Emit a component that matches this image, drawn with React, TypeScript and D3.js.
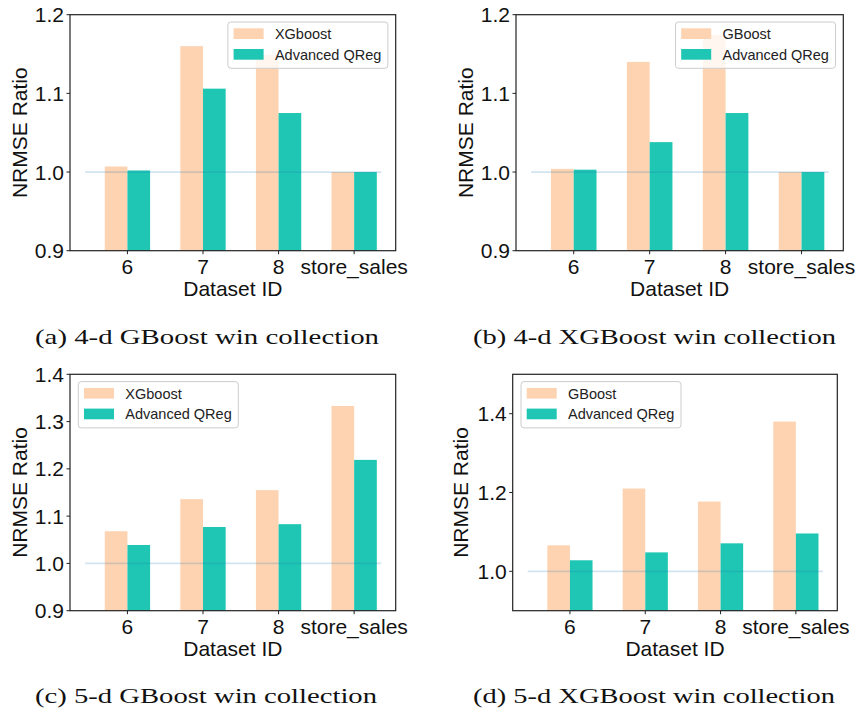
import React from "react";
import * as d3 from "d3";

const categories = ["6", "7", "8", "store_sales"];

const aBaseline = [1.007, 1.160, 1.149, 1.000];
const aQReg = [1.002, 1.106, 1.075, 1.000];
const bBaseline = [1.004, 1.140, 1.174, 1.000];
const bQReg = [1.003, 1.038, 1.075, 1.000];
const cBaseline = [1.068, 1.136, 1.155, 1.333];
const cQReg = [1.039, 1.077, 1.083, 1.219];
const dBaseline = [1.066, 1.210, 1.177, 1.380];
const dQReg = [1.028, 1.048, 1.071, 1.096];

const ticks4d = [0.9, 1.0, 1.1, 1.2];
const ticksC = [0.9, 1.0, 1.1, 1.2, 1.3, 1.4];
const ticksD = [1.0, 1.2, 1.4];

const legendBaselineA = "XGboost";
const legendBaselineB = "GBoost";
const legendQReg = "Advanced QReg";

const captions = [
  "(a) 4-d GBoost win collection",
  "(b) 4-d XGBoost win collection",
  "(c) 5-d GBoost win collection",
  "(d) 5-d XGBoost win collection",
];

const ORANGE = "#FDD3B1";
const GREEN = "#1FC6B3";
const SANS = "'Liberation Sans', Arial, Helvetica, sans-serif";
const SERIF = "'Liberation Serif', 'DejaVu Serif', serif";

type PanelProps = {
  left: number; right: number; top: number; bottom: number;
  yDomain: [number, number]; yTicks: number[];
  orange: number[]; green: number[];
  legendLabel: string; legendSide: "left" | "right";
  yLabelX: number;
};

function Panel(p: PanelProps) {
  const x = d3.scaleLinear().domain([-0.76, 3.55]).range([p.left, p.right]);
  const y = d3.scaleLinear().domain(p.yDomain).range([p.bottom, p.top]);
  const bw = 0.3;
  const fmt = d3.format(".1f");
  const legW = 160, legH = 46.3;
  const legX = p.legendSide === "right" ? p.right - 7.8 - legW : p.left + 8.3;
  const legY = p.top + 7.3;
  const cx = (p.left + p.right) / 2;
  const cy = (p.top + p.bottom) / 2;
  return (
    <g>
      {categories.map((c, i) => (
        <g key={c}>
          <rect x={x(i - bw)} width={x(bw) - x(0)} y={y(p.orange[i])}
            height={p.bottom - y(p.orange[i])} fill={ORANGE} />
          <rect x={x(i)} width={x(bw) - x(0)} y={y(p.green[i])}
            height={p.bottom - y(p.green[i])} fill={GREEN} />
        </g>
      ))}
      <line x1={x(-0.56)} x2={x(3.36)} y1={y(1)} y2={y(1)}
        stroke="#1f77b4" strokeOpacity={0.2} strokeWidth={1.8} />
      <rect x={p.left} y={p.top} width={p.right - p.left} height={p.bottom - p.top}
        fill="none" stroke="#222" strokeWidth={1.2} />
      {p.yTicks.map((t) => (
        <g key={t}>
          <line x1={p.left - 3.5} x2={p.left} y1={y(t)} y2={y(t)} stroke="#222" strokeWidth={1} />
          <text x={p.left - 6} y={y(t)} dy="0.36em" textAnchor="end"
            fontFamily={SANS} fontSize={21} fill="#111">{fmt(t)}</text>
        </g>
      ))}
      {categories.map((c, i) => (
        <g key={"t" + c}>
          <line x1={x(i)} x2={x(i)} y1={p.bottom} y2={p.bottom + 3.5} stroke="#222" strokeWidth={1} />
          <text x={x(i)} y={p.bottom + 23} textAnchor="middle"
            fontFamily={SANS} fontSize={21} fill="#111">{c}</text>
        </g>
      ))}
      <text x={cx} y={p.bottom + 45.5} textAnchor="middle" fontFamily={SANS}
        fontSize={21} fill="#111">Dataset ID</text>
      <text transform={`translate(${p.yLabelX},${cy}) rotate(-90)`} textAnchor="middle"
        dy="0.36em" fontFamily={SANS} fontSize={21} fill="#111">NRMSE Ratio</text>
      <g transform={`translate(${legX},${legY})`}>
        <rect x={0} y={0} width={legW} height={legH} rx={3} fill="#fff" fillOpacity={0.8}
          stroke="#ccc" strokeWidth={1} />
        <rect x={5.7} y={6.3} width={30} height={10.7} fill={ORANGE} />
        <rect x={5.7} y={27} width={30} height={10.7} fill={GREEN} />
        <text x={47} y={11.7} dy="0.36em" fontFamily={SANS} fontSize={14.5} fill="#222">{p.legendLabel}</text>
        <text x={47} y={32.3} dy="0.36em" fontFamily={SANS} fontSize={14.5} fill="#222">{legendQReg}</text>
      </g>
    </g>
  );
}

export default function App() {
  const capPos = [
    { x: 35, y: 344, w: 344 },
    { x: 473, y: 344, w: 363 },
    { x: 35, y: 703, w: 342 },
    { x: 473, y: 703, w: 362 },
  ];
  return (
    <svg width={856} height={713} style={{ display: "block", position: "absolute", left: 0, top: 0 }}>
      <rect width={856} height={713} fill="#fff" />
      <Panel left={70} right={395.7} top={14.7} bottom={250.7} yDomain={[0.9, 1.2]} yTicks={ticks4d}
        orange={aBaseline} green={aQReg} legendLabel={legendBaselineA} legendSide="right" yLabelX={19} />
      <Panel left={516} right={843.3} top={14.7} bottom={250.7} yDomain={[0.9, 1.2]} yTicks={ticks4d}
        orange={bBaseline} green={bQReg} legendLabel={legendBaselineB} legendSide="right" yLabelX={465} />
      <Panel left={70} right={395.7} top={374.3} bottom={610.7} yDomain={[0.9, 1.4]} yTicks={ticksC}
        orange={cBaseline} green={cQReg} legendLabel={legendBaselineA} legendSide="left" yLabelX={19} />
      <Panel left={512.7} right={837.3} top={374.3} bottom={610.7} yDomain={[0.9, 1.5]} yTicks={ticksD}
        orange={dBaseline} green={dQReg} legendLabel={legendBaselineB} legendSide="left" yLabelX={460.5} />
      {captions.map((c, i) => (
        <text key={c} x={capPos[i].x} y={capPos[i].y} fontFamily={SERIF} fontSize={22}
          textLength={capPos[i].w} lengthAdjust="spacingAndGlyphs" fill="#111">{c}</text>
      ))}
    </svg>
  );
}
